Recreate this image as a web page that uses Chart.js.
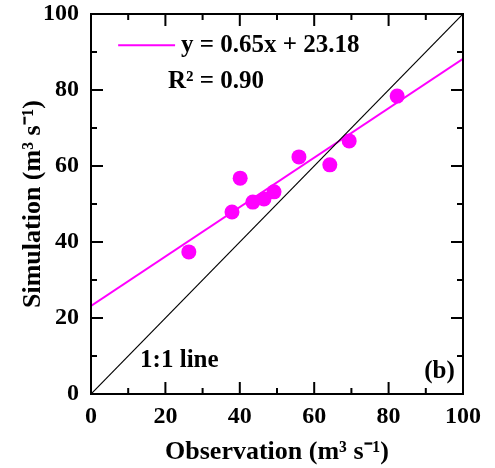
<!DOCTYPE html>
<html>
<head>
<meta charset="utf-8">
<script src="https://cdn.jsdelivr.net/npm/chart.js@4/dist/chart.umd.min.js"></script>
<style>
    html, body { margin: 0; padding: 0; background: #fff; }
</style>
</head>
<body>
<canvas id="myChart" width="495" height="468"></canvas>
<script>
// values
const obsValues = [26.3, 37.9, 40.1, 43.5, 46.5, 49.2, 55.9, 64.2, 69.4, 82.3];
const simValues = [37.4, 47.9, 56.8, 50.5, 51.3, 53.2, 62.4, 60.3, 66.6, 78.4];
const fitX = [0, 100];
const fitY = [23.18, 88.18];
const oneToOneX = [0, 100];
const oneToOneY = [0, 100];
const majorTicks = [0, 20, 40, 60, 80, 100];
const minorTicks = [10, 30, 50, 70, 90];

const FONT = "'Liberation Serif', 'Times New Roman', serif";
const MAGENTA = '#ff00ff';

function toPoints(xs, ys) {
    return xs.map(function (x, i) { return { x: x, y: ys[i] }; });
}

// frame, inward ticks and the text inside the plot
const framePlugin = {
    id: 'frame',
    afterDraw: function (chart) {
        const ctx = chart.ctx;
        const a = chart.chartArea;
        const sx = chart.scales.x;
        const sy = chart.scales.y;
        ctx.save();
        ctx.strokeStyle = '#000';
        ctx.lineWidth = 2;
        ctx.strokeRect(a.left, a.top, a.right - a.left, a.bottom - a.top);

        function ticks(values, len) {
            values.forEach(function (v) {
                const px = sx.getPixelForValue(v);
                const py = sy.getPixelForValue(v);
                ctx.beginPath();
                ctx.moveTo(px, a.bottom); ctx.lineTo(px, a.bottom - len);
                ctx.moveTo(px, a.top); ctx.lineTo(px, a.top + len);
                ctx.moveTo(a.left, py); ctx.lineTo(a.left + len, py);
                ctx.moveTo(a.right, py); ctx.lineTo(a.right - len, py);
                ctx.stroke();
            });
        }
        ticks(majorTicks, 12);
        ticks(minorTicks, 6);

        // legend line
        ctx.strokeStyle = MAGENTA;
        ctx.lineWidth = 2;
        ctx.beginPath();
        ctx.moveTo(sx.getPixelForValue(7.3), sy.getPixelForValue(91.8));
        ctx.lineTo(sx.getPixelForValue(22.6), sy.getPixelForValue(91.8));
        ctx.stroke();

        ctx.fillStyle = '#000';
        ctx.textBaseline = 'middle';
        ctx.textAlign = 'left';
        ctx.font = 'bold 25px ' + FONT;
        ctx.fillText('y = 0.65x + 23.18', sx.getPixelForValue(24.2), sy.getPixelForValue(91.8));
        ctx.fillText('R² = 0.90', sx.getPixelForValue(20.7), sy.getPixelForValue(82.1));
        ctx.fillText('1:1 line', sx.getPixelForValue(13.2), sy.getPixelForValue(8.7));
        ctx.textAlign = 'right';
        ctx.fillText('(b)', sx.getPixelForValue(97.8), sy.getPixelForValue(6));
        ctx.restore();
    }
};

const ctx = document.getElementById('myChart').getContext('2d');

new Chart(ctx, {
    type: 'scatter',
    data: {
        datasets: [
            {
                label: '1:1 line',
                type: 'line',
                data: toPoints(oneToOneX, oneToOneY),
                borderColor: '#000',
                borderWidth: 1.2,
                pointRadius: 0,
                fill: false
            },
            {
                label: 'y = 0.65x + 23.18',
                type: 'line',
                data: toPoints(fitX, fitY),
                borderColor: MAGENTA,
                borderWidth: 2,
                pointRadius: 0,
                fill: false
            },
            {
                label: 'Simulation',
                data: toPoints(obsValues, simValues),
                backgroundColor: MAGENTA,
                borderWidth: 0,
                pointRadius: 7.5,
                pointHoverRadius: 7.5
            }
        ]
    },
    options: {
        responsive: false,
        animation: false,
        layout: { padding: { left: 0, right: 32, top: 14, bottom: 0 } },
        plugins: {
            legend: { display: false },
            tooltip: { enabled: false }
        },
        scales: {
            x: {
                type: 'linear',
                min: 0,
                max: 100,
                grid: { display: false, drawTicks: false },
                border: { display: false },
                ticks: {
                    stepSize: 20,
                    color: '#000',
                    padding: 8,
                    font: { family: FONT, size: 24, weight: 'bold' }
                },
                title: {
                    display: true,
                    text: 'Observation (m³ s⁻¹)',
                    color: '#000',
                    padding: { top: 0, bottom: 0 },
                    font: { family: FONT, size: 26, weight: 'bold' }
                },
                afterFit: function (scale) {
                    scale.height = 74;
                    scale.paddingRight = 0;
                    scale.paddingLeft = 0;
                }
            },
            y: {
                type: 'linear',
                min: 0,
                max: 100,
                grid: { display: false, drawTicks: false },
                border: { display: false },
                ticks: {
                    stepSize: 20,
                    color: '#000',
                    padding: 12,
                    font: { family: FONT, size: 24, weight: 'bold' }
                },
                title: {
                    display: true,
                    text: 'Simulation (m³ s⁻¹)',
                    color: '#000',
                    padding: { top: 18, bottom: 0 },
                    font: { family: FONT, size: 26, weight: 'bold' }
                },
                afterFit: function (scale) {
                    scale.width = 91;
                    scale.paddingTop = 0;
                    scale.paddingBottom = 0;
                }
            }
        }
    },
    plugins: [framePlugin]
});
</script>
</body>
</html>
